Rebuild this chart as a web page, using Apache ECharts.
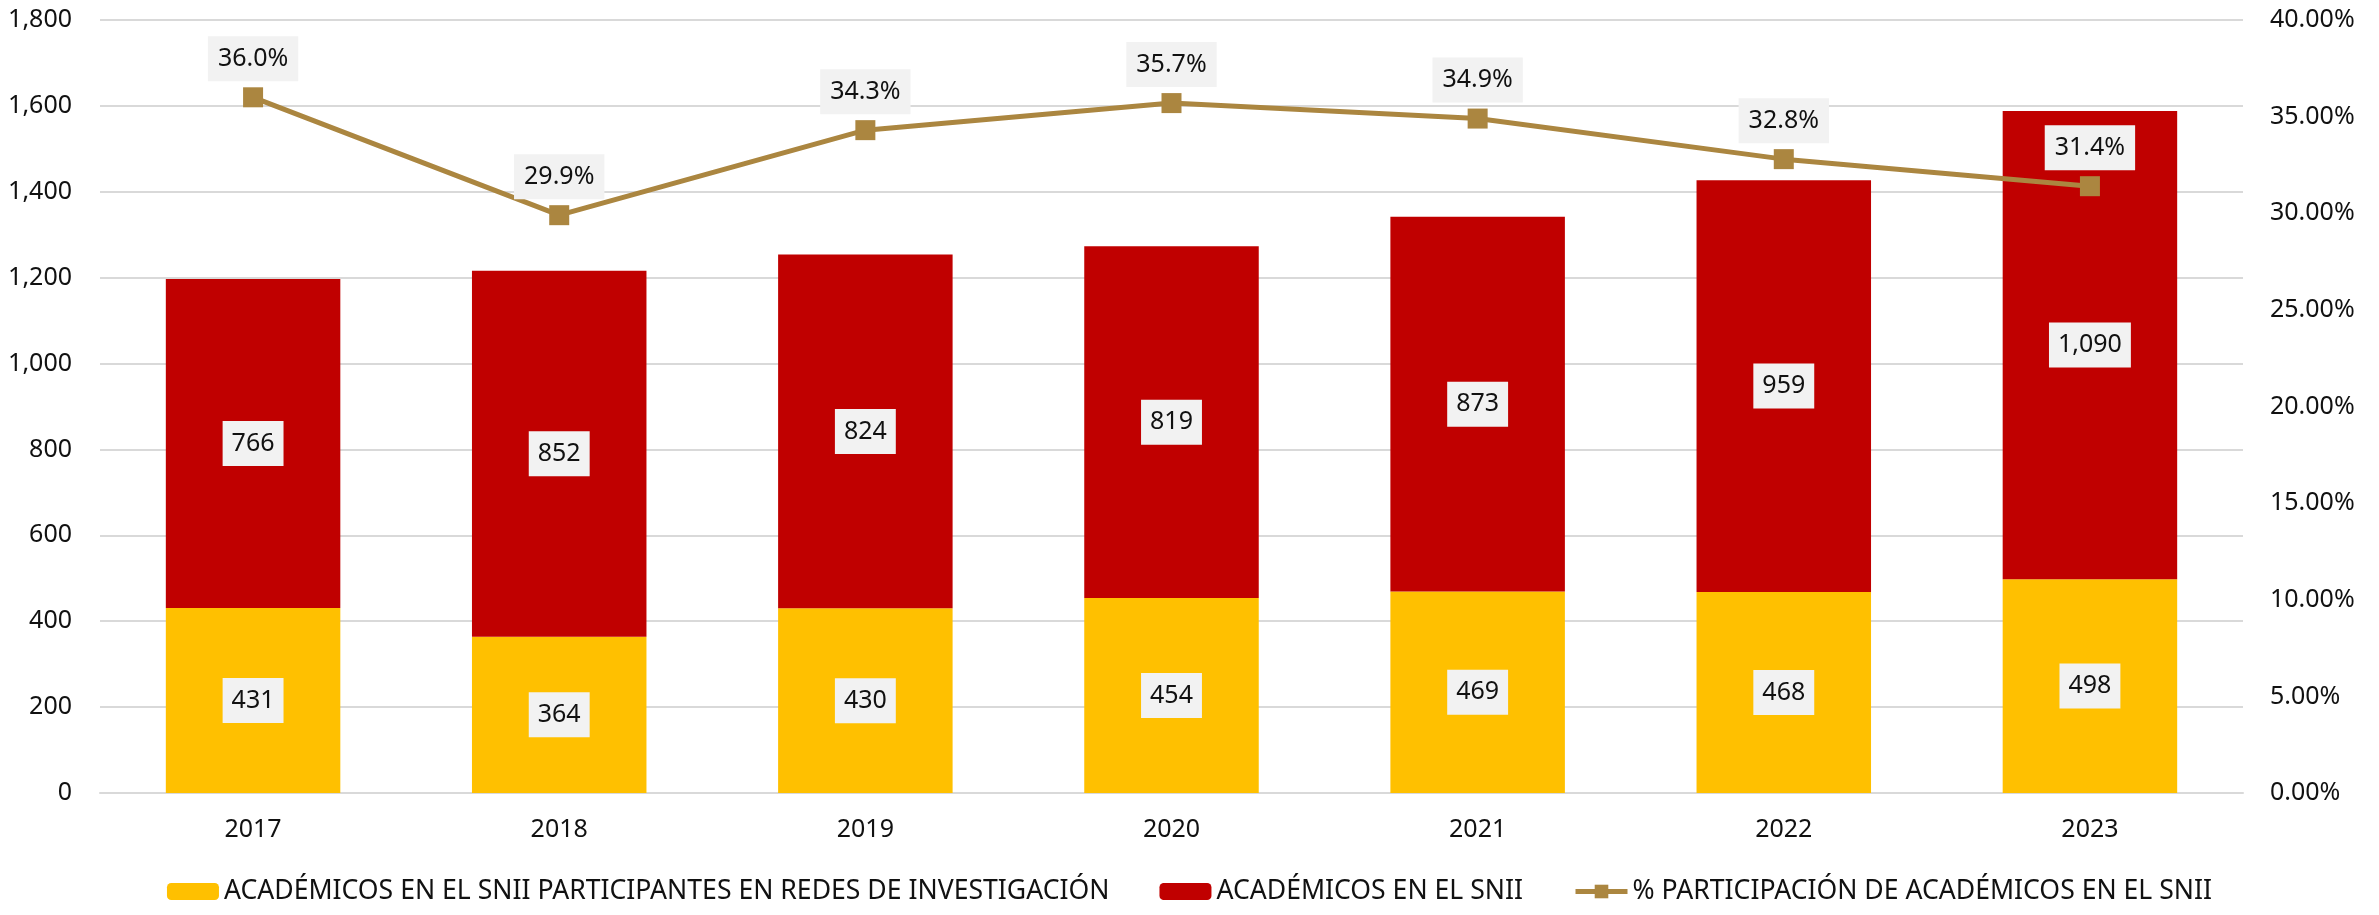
<!DOCTYPE html>
<html>
<head>
<meta charset="utf-8">
<style>
  html, body { margin: 0; padding: 0; background: #ffffff; }
  #chart { width: 2379px; height: 915px; }
</style>
<script src="https://cdn.jsdelivr.net/npm/echarts@6/dist/echarts.min.js"></script>
</head>
<body>
<div id="chart"></div>
<script>
// Years shown on the category axis
const years = ['2017', '2018', '2019', '2020', '2021', '2022', '2023'];

// Academics in the SNII who take part in research networks
const enRedes = [431, 364, 430, 454, 469, 468, 498];

// Academics in the SNII (stacked on top)
const enSnii = [766, 852, 824, 819, 873, 959, 1090];

// Participation percentage (right axis)
const participacion = [36.0, 29.9, 34.3, 35.7, 34.9, 32.8, 31.4];

// Series names for the legend
const seriesNames = [
  'ACADÉMICOS EN EL SNII PARTICIPANTES EN REDES DE INVESTIGACIÓN',
  'ACADÉMICOS EN EL SNII',
  '% PARTICIPACIÓN DE ACADÉMICOS EN EL SNII'
];

const FONT = '"Noto Sans", "Open Sans", sans-serif';
const TEXT = '#111111';
const GRID = '#d9d9d9';
const GOLD = '#ab8640';

const fmtInt = v => Number(v).toLocaleString('en-US');

const barLabel = {
  show: true,
  position: 'inside',
  color: TEXT,
  fontFamily: FONT,
  fontSize: 25,
  lineHeight: 29,
  backgroundColor: '#f2f2f2',
  padding: [8, 9],
  formatter: p => fmtInt(p.value)
};

const chart = echarts.init(document.getElementById('chart'), null, { renderer: 'canvas' });

chart.setOption({
  backgroundColor: '#ffffff',
  animation: false,
  textStyle: { fontFamily: FONT },
  grid: { left: 100, right: 136, top: 20, bottom: 122, containLabel: false },
  legend: {
    bottom: 5,
    left: 'center',
    itemWidth: 52,
    itemHeight: 17,
    itemGap: 50,
    textStyle: { fontFamily: FONT, fontSize: 26.6, color: TEXT },
    data: [
      { name: seriesNames[0] },
      { name: seriesNames[1] },
      {
        name: seriesNames[2],
        itemStyle: { color: GOLD },
        lineStyle: { color: GOLD, width: 5 }
      }
    ]
  },
  xAxis: {
    type: 'category',
    data: years,
    axisTick: { show: false },
    axisLine: { show: true, lineStyle: { color: GRID, width: 2 } },
    axisLabel: { color: TEXT, fontFamily: FONT, fontSize: 25, margin: 24 }
  },
  yAxis: [
    {
      type: 'value',
      min: 0,
      max: 1800,
      interval: 200,
      axisLine: { show: false },
      axisTick: { show: false },
      splitLine: { show: true, lineStyle: { color: GRID, width: 2 } },
      axisLabel: { color: TEXT, fontFamily: FONT, fontSize: 25, margin: 28, formatter: fmtInt }
    },
    {
      type: 'value',
      min: 0,
      max: 40,
      interval: 5,
      position: 'right',
      axisLine: { show: false },
      axisTick: { show: false },
      splitLine: { show: false },
      axisLabel: {
        color: TEXT, fontFamily: FONT, fontSize: 25, margin: 27,
        formatter: v => v.toFixed(2) + '%'
      }
    }
  ],
  series: [
    {
      name: seriesNames[0],
      type: 'bar',
      stack: 'total',
      barWidth: '57%',
      itemStyle: { color: '#ffc000' },
      label: barLabel,
      data: enRedes
    },
    {
      name: seriesNames[1],
      type: 'bar',
      stack: 'total',
      barWidth: '57%',
      itemStyle: { color: '#c00000' },
      label: barLabel,
      data: enSnii
    },
    {
      name: seriesNames[2],
      type: 'line',
      yAxisIndex: 1,
      symbol: 'rect',
      symbolSize: 20,
      lineStyle: { color: GOLD, width: 5 },
      itemStyle: { color: GOLD },
      label: {
        show: true,
        position: 'top',
        distance: 6,
        color: TEXT,
        fontFamily: FONT,
        fontSize: 25,
        lineHeight: 29,
        backgroundColor: '#f2f2f2',
        padding: [8, 10],
        formatter: p => p.value.toFixed(1) + '%'
      },
      z: 5,
      data: participacion
    }
  ]
});
</script>
</body>
</html>
